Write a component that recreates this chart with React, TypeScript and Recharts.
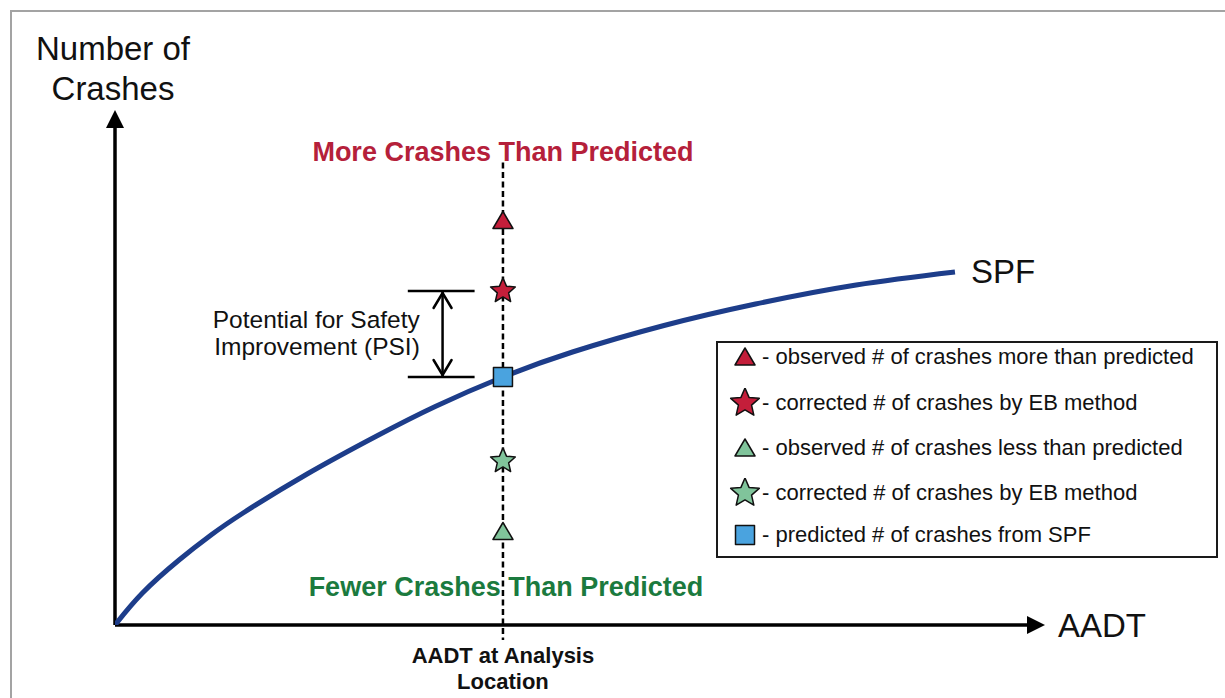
import React from 'react';
import {
  ComposedChart,
  Line,
  Scatter,
  XAxis,
  YAxis,
  ReferenceLine,
  ReferenceDot,
  Legend,
} from 'recharts';

// ---------------- data ----------------
// SPF curve (AADT in relative units 0..100, crashes in relative units 0..100)
const spfAadt = [0, 3, 7, 10.5, 14, 21, 28.6, 35, 42.4, 50, 60, 70, 81, 91.8];
const spfCrashes = [0, 6.4, 13.0, 18.0, 22.4, 30.2, 37.8, 43.7, 49.6, 54.6, 59.9, 64.2, 68.0, 70.6];

// AADT at the analysis location
const analysisAadt = 42.4;

// markers at the analysis location (legend order)
const markerKeys = ['obsMore', 'ebMore', 'obsLess', 'ebLess', 'predicted'];
const markerCrashes = [80.9, 66.8, 18.7, 32.8, 49.6];
const markerLabels = [
  '- observed # of crashes more than predicted',
  '- corrected # of crashes by EB method',
  '- observed # of crashes less than predicted',
  '- corrected # of crashes by EB method',
  '- predicted # of crashes from SPF',
];

// extent of the dashed vertical guide (crash units)
const guideRange = [92.5, -3];
// PSI bracket horizontal extent (AADT units)
const psiBarAadt = [32.0, 39.3];
const psiArrowAadt = 35.8;

// axis domains
const aadtDomain = [0, 100];
const crashDomain = [0, 100];

// ---------------- styles ----------------
const FONT = '"Liberation Sans", Arial, Helvetica, sans-serif';
const RED = '#c41e3a';
const GREEN_FILL = '#80c49b';
const GREEN_TEXT = '#1b7a3e';
const BLUE = '#4aa3df';
const NAVY = '#1d3d8a';

const markerStyle: Record<string, { kind: string; fill: string }> = {
  obsMore: { kind: 'triangle', fill: RED },
  ebMore: { kind: 'star', fill: RED },
  obsLess: { kind: 'triangle', fill: GREEN_FILL },
  ebLess: { kind: 'star', fill: GREEN_FILL },
  predicted: { kind: 'square', fill: BLUE },
};

function starPoints(cx: number, cy: number, R: number) {
  const pts: string[] = [];
  for (let i = 0; i < 10; i++) {
    const a = ((-90 + i * 36) * Math.PI) / 180;
    const r = i % 2 === 0 ? R : R * 0.46;
    pts.push(`${cx + r * Math.cos(a)},${cy + r * Math.sin(a)}`);
  }
  return pts.join(' ');
}

function Marker({ kind, fill, cx, cy, big }: { kind: string; fill: string; cx: number; cy: number; big?: boolean }) {
  const common = { fill, stroke: '#111', strokeWidth: 1.5, strokeLinejoin: 'round' as const };
  if (kind === 'triangle') {
    return <polygon points={`${cx},${cy - 9} ${cx + 10},${cy + 8} ${cx - 10},${cy + 8}`} {...common} />;
  }
  if (kind === 'star') {
    return <polygon points={starPoints(cx, cy, big ? 15 : 13)} {...common} />;
  }
  return <rect x={cx - 9.5} y={cy - 9.5} width={19} height={19} {...common} />;
}

const spfData = spfAadt.map((aadt, i) => ({ aadt, spf: spfCrashes[i] }));
const markerData = markerKeys.map((k, i) => [{ aadt: analysisAadt, crashes: markerCrashes[i] }]);

// legend box
function LegendBox() {
  const centers = [14, 60, 105, 150, 192];
  return (
    <div
      style={{
        position: 'relative',
        width: 502,
        height: 217,
        border: '2px solid #1a1a1a',
        boxSizing: 'border-box',
        background: '#fff',
        fontFamily: FONT,
        fontSize: 22,
        color: '#111',
      }}
    >
      {markerKeys.map((k, i) => (
        <div
          key={k}
          style={{
            position: 'absolute',
            left: 0,
            top: centers[i] - 15,
            height: 30,
            display: 'flex',
            alignItems: 'center',
            whiteSpace: 'nowrap',
          }}
        >
          <svg width={44} height={30} style={{ display: 'block' }}>
            <Marker kind={markerStyle[k].kind} fill={markerStyle[k].fill} cx={27} cy={15} big />
          </svg>
          <span>{markerLabels[i]}</span>
        </div>
      ))}
    </div>
  );
}

export default function App() {
  const W = 1225;
  const H = 698;
  return (
    <div
      style={{
        position: 'absolute',
        left: 0,
        top: 0,
        width: W,
        height: H,
        overflow: 'hidden',
        background: '#fff',
      }}
    >
      <div
        style={{
          position: 'absolute',
          left: 10,
          top: 10,
          width: W + 20,
          height: H + 20,
          border: '2px solid #a3a3a3',
          boxSizing: 'border-box',
        }}
      />
      <div style={{ position: 'absolute', left: 0, top: 0 }}>
        <ComposedChart
          width={W}
          height={H}
          data={spfData}
          margin={{ top: 125, left: 115, right: 195, bottom: 73 }}
        >
          <XAxis dataKey="aadt" type="number" domain={aadtDomain} allowDataOverflow hide />
          <YAxis type="number" domain={crashDomain} allowDataOverflow hide />

          {/* axes lines */}
          <ReferenceLine
            segment={[
              { x: aadtDomain[0], y: crashDomain[0] },
              { x: aadtDomain[1], y: crashDomain[0] },
            ]}
            stroke="#000"
            strokeWidth={3.5}
            ifOverflow="visible"
          />
          <ReferenceLine
            segment={[
              { x: aadtDomain[0], y: crashDomain[0] },
              { x: aadtDomain[0], y: crashDomain[1] },
            ]}
            stroke="#000"
            strokeWidth={3.5}
            ifOverflow="visible"
          />

          {/* dashed guide at analysis AADT */}
          <ReferenceLine
            segment={[
              { x: analysisAadt, y: guideRange[0] },
              { x: analysisAadt, y: guideRange[1] },
            ]}
            stroke="#000"
            strokeWidth={2.5}
            strokeDasharray="6 3.5"
            ifOverflow="visible"
          />

          {/* PSI bracket */}
          <ReferenceLine
            segment={[
              { x: psiBarAadt[0], y: markerCrashes[1] },
              { x: psiBarAadt[1], y: markerCrashes[1] },
            ]}
            stroke="#000"
            strokeWidth={2.5}
            ifOverflow="visible"
          />
          <ReferenceLine
            segment={[
              { x: psiBarAadt[0], y: markerCrashes[4] },
              { x: psiBarAadt[1], y: markerCrashes[4] },
            ]}
            stroke="#000"
            strokeWidth={2.5}
            ifOverflow="visible"
          />
          <ReferenceLine
            segment={[
              { x: psiArrowAadt, y: markerCrashes[1] },
              { x: psiArrowAadt, y: markerCrashes[4] },
            ]}
            ifOverflow="visible"
            shape={(p: any) => {
              const x = p.x1;
              const yTop = Math.min(p.y1, p.y2);
              const yBot = Math.max(p.y1, p.y2);
              return (
                <g stroke="#000" strokeWidth={2.5} fill="none" strokeLinecap="round">
                  <line x1={x} y1={yTop + 1} x2={x} y2={yBot - 1} />
                  <polyline points={`${x - 9},${yTop + 17} ${x},${yTop + 2} ${x + 9},${yTop + 17}`} />
                  <polyline points={`${x - 9},${yBot - 17} ${x},${yBot - 2} ${x + 9},${yBot - 17}`} />
                </g>
              );
            }}
          />

          {/* SPF curve */}
          <Line
            dataKey="spf"
            type="natural"
            stroke={NAVY}
            strokeWidth={5}
            dot={false}
            activeDot={false}
            isAnimationActive={false}
          />

          {/* markers */}
          {markerKeys.map((k, i) => (
            <Scatter
              key={k}
              name={markerLabels[i]}
              data={markerData[i]}
              dataKey="crashes"
              fill={markerStyle[k].fill}
              isAnimationActive={false}
              shape={(p: any) => (
                <Marker kind={markerStyle[k].kind} fill={markerStyle[k].fill} cx={p.cx} cy={p.cy} />
              )}
            />
          ))}

          {/* axis arrowheads */}
          <ReferenceDot
            x={aadtDomain[0]}
            y={crashDomain[1]}
            ifOverflow="visible"
            shape={(p: any) => (
              <polygon points={`${p.cx - 9},${p.cy + 3} ${p.cx + 9},${p.cy + 3} ${p.cx},${p.cy - 15}`} fill="#000" />
            )}
          />
          <ReferenceDot
            x={aadtDomain[1]}
            y={crashDomain[0]}
            ifOverflow="visible"
            shape={(p: any) => (
              <polygon points={`${p.cx - 3},${p.cy - 9} ${p.cx - 3},${p.cy + 9} ${p.cx + 15},${p.cy}`} fill="#000" />
            )}
          />

          {/* axis titles */}
          <ReferenceDot
            x={aadtDomain[0]}
            y={crashDomain[1]}
            ifOverflow="visible"
            shape={(p: any) => (
              <text x={p.cx - 2} y={p.cy - 65} textAnchor="middle" fontFamily={FONT} fontSize={33} fill="#111">
                <tspan x={p.cx - 2} y={p.cy - 65}>Number of</tspan>
                <tspan x={p.cx - 2} y={p.cy - 25}>Crashes</tspan>
              </text>
            )}
          />
          <ReferenceDot
            x={aadtDomain[1]}
            y={crashDomain[0]}
            ifOverflow="visible"
            shape={(p: any) => (
              <text x={p.cx + 28} y={p.cy + 12} fontFamily={FONT} fontSize={33} fill="#111">
                AADT
              </text>
            )}
          />

          {/* SPF label */}
          <ReferenceDot
            x={spfAadt[spfAadt.length - 1]}
            y={spfCrashes[spfCrashes.length - 1]}
            ifOverflow="visible"
            shape={(p: any) => (
              <text x={p.cx + 16} y={p.cy + 11} fontFamily={FONT} fontSize={33} fill="#111">
                SPF
              </text>
            )}
          />

          {/* more / fewer labels */}
          <ReferenceDot
            x={analysisAadt}
            y={guideRange[0]}
            ifOverflow="visible"
            shape={(p: any) => (
              <text x={p.cx} y={p.cy - 2} textAnchor="middle" fontFamily={FONT} fontWeight="bold" fontSize={27} fill="#b5203a">
                More Crashes Than Predicted
              </text>
            )}
          />
          <ReferenceDot
            x={analysisAadt}
            y={crashDomain[0]}
            ifOverflow="visible"
            shape={(p: any) => (
              <g>
                <text x={p.cx + 3} y={p.cy - 29} textAnchor="middle" fontFamily={FONT} fontWeight="bold" fontSize={27} fill={GREEN_TEXT}>
                  Fewer Crashes Than Predicted
                </text>
                <text textAnchor="middle" fontFamily={FONT} fontWeight="bold" fontSize={22} fill="#111">
                  <tspan x={p.cx} y={p.cy + 38}>AADT at Analysis</tspan>
                  <tspan x={p.cx} y={p.cy + 64}>Location</tspan>
                </text>
              </g>
            )}
          />

          {/* PSI label */}
          <ReferenceDot
            x={psiBarAadt[0]}
            y={markerCrashes[4]}
            ifOverflow="visible"
            shape={(p: any) => (
              <text textAnchor="end" fontFamily={FONT} fontSize={24.5} fill="#111">
                <tspan x={p.cx + 12} y={p.cy - 49}>Potential for Safety</tspan>
                <tspan x={p.cx + 12} y={p.cy - 22}>Improvement (PSI)</tspan>
              </text>
            )}
          />

          <Legend
            layout="vertical"
            align="center"
            verticalAlign="middle"
            wrapperStyle={{ left: 716, top: 341, width: 502, height: 217 }}
            content={() => <LegendBox />}
          />
        </ComposedChart>
      </div>
    </div>
  );
}
